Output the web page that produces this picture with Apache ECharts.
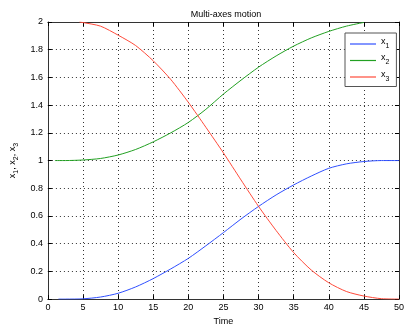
<!DOCTYPE html>
<html>
<head>
<meta charset="utf-8">
<script src="https://cdn.jsdelivr.net/npm/echarts@6/dist/echarts.min.js"></script>
<style>html,body{margin:0;padding:0;background:#fff}#c{width:407px;height:331px}</style>
</head>
<body>
<div id="c"></div>
<script>
var xTicks = [0, 5, 10, 15, 20, 25, 30, 35, 40, 45, 50];
var t1 = [1.5, 2.5, 5, 7.5, 10, 12.5, 15, 17.5, 20, 22.5, 25, 27.5, 30, 32.5, 35, 37.5, 40, 42.5, 45, 47.5, 50];
var x1 = [0, 0, 0.002, 0.015, 0.042, 0.088, 0.148, 0.218, 0.294, 0.385, 0.48, 0.578, 0.669, 0.752, 0.824, 0.888, 0.944, 0.976, 0.993, 1.0, 1.0];
var t2 = [1, 2.5, 5, 7.5, 10, 12.5, 15, 17.5, 20, 22.5, 25, 27.5, 30, 32.5, 35, 37.5, 40, 42.5, 45];
var x2 = [1.0, 1.0, 1.004, 1.015, 1.04, 1.08, 1.135, 1.2, 1.275, 1.37, 1.48, 1.58, 1.674, 1.755, 1.826, 1.885, 1.932, 1.97, 1.997];
var t3 = [4.5, 5, 7.5, 10, 12.5, 15, 17.5, 20, 22.5, 25, 27.5, 30, 32.5, 35, 37.5, 40, 42.5, 45, 47.5, 50];
var x3 = [2.0, 1.996, 1.97, 1.905, 1.83, 1.72, 1.585, 1.42, 1.24, 1.055, 0.86, 0.669, 0.495, 0.336, 0.21, 0.118, 0.055, 0.022, 0.003, 0];
var names = ['x1', 'x2', 'x3'];
var colors = ['#2f4fff', '#22a022', '#ff4a3a'];

function pairs(t, v) { return t.map(function (x, i) { return [x, v[i]]; }); }

var chart = echarts.init(document.getElementById('c'), null, {renderer: 'canvas'});
var axisCommon = {
  type: 'value',
  axisLine: {show: true, onZero: false, lineStyle: {color: '#333', width: 1}},
  axisTick: {show: true, inside: true, length: 4, lineStyle: {color: '#000'}},
  splitLine: {show: false}
};
var fontFam = 'Liberation Sans, Arial, sans-serif';
var lineIcon = 'path://M0,0 L26,0 L26,1.2 L0,1.2 Z';
chart.setOption({
  animation: false,
  backgroundColor: '#fff',
  textStyle: {fontFamily: fontFam},
  title: {
    text: 'Multi-axes motion', left: 221, top: 5, textAlign: 'center',
    textStyle: {fontSize: 9, fontWeight: 'normal', color: '#000', fontFamily: fontFam}
  },
  grid: {left: 43, right: 4, top: 22, bottom: 25, containLabel: false},
  legend: {
    orient: 'vertical', left: 345, top: 33,
    data: names.map(function (n) { return {name: n, icon: lineIcon}; }),
    backgroundColor: '#fff', borderColor: '#555', borderWidth: 1,
    padding: [4, 7, 4, 5], itemGap: 4, itemWidth: 26, itemHeight: 11,
    formatter: function (n) { return '{a|x}{b|' + n.slice(1) + '}'; },
    textStyle: {
      color: '#000', fontFamily: fontFam,
      rich: {a: {fontSize: 9, padding: [0, 0, 5, 0]}, b: {fontSize: 7, padding: [4, 0, 0, 0]}}
    }
  },
  xAxis: [
    Object.assign({}, axisCommon, {
      min: 0, max: 50, interval: 5, position: 'bottom',
      name: 'Time', nameLocation: 'middle', nameGap: 17,
      nameTextStyle: {fontSize: 9, color: '#000', fontFamily: fontFam},
      axisLabel: {fontSize: 9, color: '#000', margin: 4, fontFamily: fontFam},
      splitLine: {show: true, lineStyle: {color: '#333', type: [1, 3], width: 1}}
    }),
    Object.assign({}, axisCommon, {
      min: 0, max: 50, interval: 5, position: 'top', axisLabel: {show: false}
    })
  ],
  yAxis: [
    Object.assign({}, axisCommon, {
      min: 0, max: 2, interval: 0.2, position: 'left',
      name: '{a|x}{b|1}{a|, x}{b|2}{a|, x}{b|3}', nameLocation: 'middle', nameGap: 24, nameRotate: 90,
      nameTextStyle: {color: '#000', fontFamily: fontFam,
        rich: {a: {fontSize: 9, color: '#000', padding: [0, 0, 4, 0]}, b: {fontSize: 7, color: '#000', padding: [3, 0, 0, 0]}}},
      axisLabel: {fontSize: 9, color: '#000', margin: 5, fontFamily: fontFam},
      splitLine: {show: true, lineStyle: {color: '#333', type: [1, 3], width: 1}}
    }),
    Object.assign({}, axisCommon, {
      min: 0, max: 2, interval: 0.2, position: 'right', axisLabel: {show: false}
    })
  ],
  series: [
    {name: names[0], type: 'line', data: pairs(t1, x1)},
    {name: names[1], type: 'line', data: pairs(t2, x2)},
    {name: names[2], type: 'line', data: pairs(t3, x3)}
  ].map(function (s, i) {
    s.symbol = 'none'; s.smooth = 0.25;
    s.lineStyle = {color: colors[i], width: 1};
    s.itemStyle = {color: colors[i]};
    s.xAxisIndex = 0; s.yAxisIndex = 0;
    return s;
  })
});
</script>
</body>
</html>
